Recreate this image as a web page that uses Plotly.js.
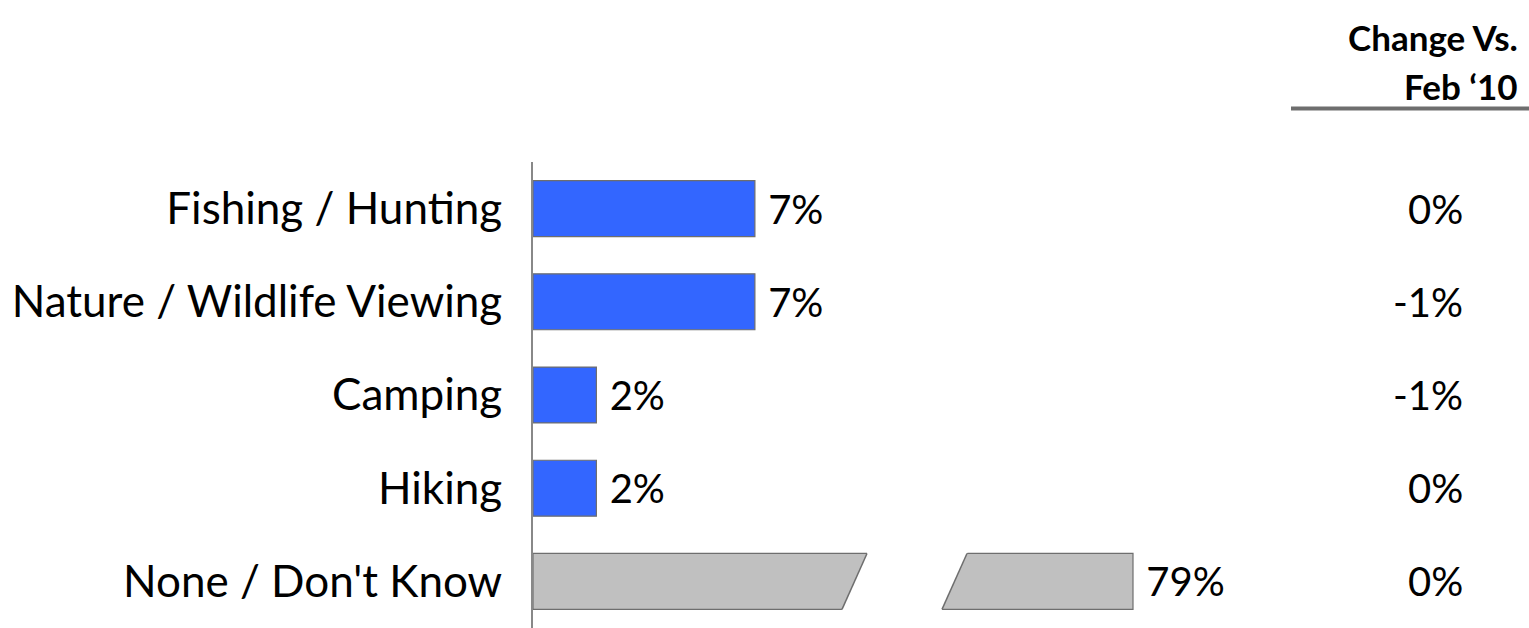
<!DOCTYPE html>
<html>
<head>
<meta charset="utf-8">
<script src="https://cdn.plot.ly/plotly-3.0.1.min.js"></script>
<style>html,body{margin:0;padding:0;background:#fff;}#chart{width:1529px;height:628px;}</style>
</head>
<body>
<div id="chart"></div>
<script>
// ---- data ----
var categories = ["Fishing / Hunting", "Nature / Wildlife Viewing", "Camping", "Hiking", "None / Don't Know"];
var shares = [7, 7, 2, 2, 79];
var changes = [0, -1, -1, 0, 0];
var headerLines = ["Change Vs.", "Feb \u201810"];

// ---- geometry (pixels) ----
var W = 1529, H = 628, L = 533, T = 162;
var PW = W - L;
function px2paper(p) { return (p - L) / PW; }
function py2paper(p) { return 1 + (T - p) / (H - T); }
var pxPerUnit = 31.7;
var breakLeftEnd = 867;     // end of first piece (top corner)
var breakRightStart = 942;  // start of second piece (bottom corner)
var barEnd = 1133;
var slant = 25;

var blue = "#3366FF", grey = "#C0C0C0", outline = "#6E6E6E";
var font = "Lato, 'Open Sans', sans-serif";
var lastIdx = categories.length - 1;
var NB = "\u00A0";

var colors = shares.map(function (v, i) { return i === lastIdx ? grey : blue; });
var texts = shares.map(function (v, i) { return i === lastIdx ? "" : NB + v + "%"; });

var trace1 = {
  type: "bar", orientation: "h",
  y: categories, x: shares,
  marker: { color: colors, line: { color: outline, width: 1.2 } },
  width: 0.6,
  text: texts, textposition: "outside", cliponaxis: false,
  textfont: { family: font, size: 40, color: "#000" },
  xaxis: "x", yaxis: "y", hoverinfo: "skip"
};
var trace2 = {
  type: "bar", orientation: "h",
  y: [categories[lastIdx]], x: [shares[lastIdx]],
  marker: { color: grey, line: { color: outline, width: 1.2 } },
  width: 0.6,
  text: [NB + shares[lastIdx] + "%"], textposition: "outside", cliponaxis: false,
  textfont: { family: font, size: 40, color: "#000" },
  xaxis: "x2", yaxis: "y", hoverinfo: "skip"
};

var x1Max = (breakLeftEnd - L) / pxPerUnit;
var x2Min = shares[lastIdx] - (barEnd - breakRightStart) / pxPerUnit;
var x2Max = x2Min + (W - breakRightStart) / pxPerUnit;

var annotations = changes.map(function (c, i) {
  return {
    xref: "paper", yref: "y", x: px2paper(1465), y: categories[i],
    xanchor: "right", yanchor: "middle", showarrow: false,
    text: c + "%", font: { family: font, size: 40, color: "#000" }
  };
});
var headerY = [37, 86];
headerLines.forEach(function (t, i) {
  annotations.push({
    xref: "paper", yref: "paper", x: px2paper(1520), y: py2paper(headerY[i]),
    xanchor: "right", yanchor: "middle", align: "right", showarrow: false,
    text: "<b>" + t + "</b>",
    font: { family: font, size: 35, color: "#000" }
  });
});

// break decoration (white cut + slanted edge)
var yb = lastIdx + 0.3, yt = lastIdx - 0.3, e = 0.03;
var dxe = slant * e / 0.6;
var shapes = [
  { type: "path", xref: "paper", yref: "y", layer: "above",
    path: "M" + px2paper(breakLeftEnd - slant - dxe) + "," + (yb + e) +
          " L" + px2paper(breakLeftEnd + 4) + "," + (yb + e) +
          " L" + px2paper(breakLeftEnd + 4) + "," + (yt - e) +
          " L" + px2paper(breakLeftEnd + dxe) + "," + (yt - e) + " Z",
    fillcolor: "#fff", line: { width: 0 } },
  { type: "line", xref: "paper", yref: "y", layer: "above",
    x0: px2paper(breakLeftEnd - slant), y0: yb, x1: px2paper(breakLeftEnd), y1: yt,
    line: { color: outline, width: 1.5 } },
  { type: "path", xref: "paper", yref: "y", layer: "above",
    path: "M" + px2paper(breakRightStart - 4) + "," + (yb + e) +
          " L" + px2paper(breakRightStart - dxe) + "," + (yb + e) +
          " L" + px2paper(breakRightStart + slant + dxe) + "," + (yt - e) +
          " L" + px2paper(breakRightStart - 4) + "," + (yt - e) + " Z",
    fillcolor: "#fff", line: { width: 0 } },
  { type: "line", xref: "paper", yref: "y", layer: "above",
    x0: px2paper(breakRightStart), y0: yb, x1: px2paper(breakRightStart + slant), y1: yt,
    line: { color: outline, width: 1.5 } },
  { type: "line", xref: "paper", yref: "paper", layer: "above",
    x0: px2paper(1291), x1: px2paper(1529), y0: py2paper(108.5), y1: py2paper(108.5),
    line: { color: "#6E6E6E", width: 4 } }
];

var layout = {
  width: W, height: H,
  margin: { l: L, r: 0, t: T, b: 0, pad: 0 },
  paper_bgcolor: "#fff", plot_bgcolor: "rgba(0,0,0,0)",
  showlegend: false, bargap: 0.4,
  font: { family: font, color: "#000" },
  xaxis: { domain: [0, px2paper(breakLeftEnd)], range: [0, x1Max], visible: false, fixedrange: true, anchor: "y" },
  xaxis2: { domain: [px2paper(breakRightStart), 1], range: [x2Min, x2Max], visible: false, fixedrange: true, anchor: "y" },
  yaxis: {
    type: "category", autorange: "reversed", anchor: "x",
    showline: true, linecolor: "#888", linewidth: 2,
    showgrid: false, zeroline: false, ticks: "",
    ticklabelstandoff: 20,
    tickfont: { family: font, size: 44, color: "#000" },
    fixedrange: true
  },
  annotations: annotations,
  shapes: shapes
};

Plotly.newPlot("chart", [trace1, trace2], layout, { displayModeBar: false, staticPlot: true });
</script>
</body>
</html>
